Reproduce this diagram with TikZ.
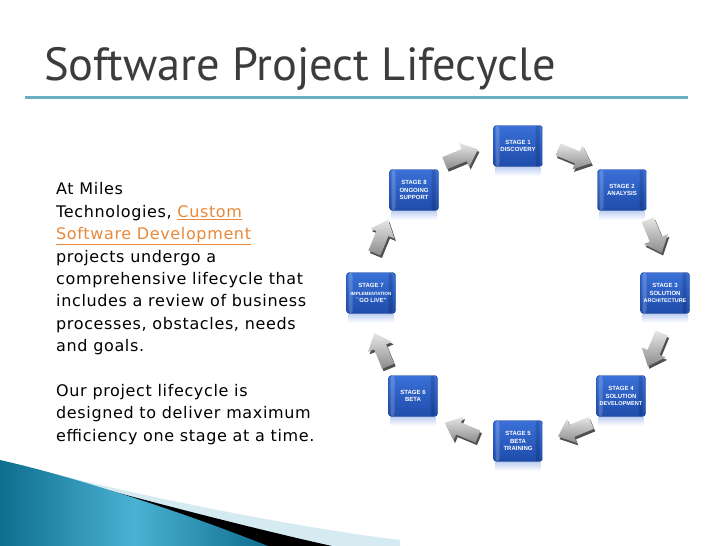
\documentclass[tikz,border=0pt]{standalone}
\usepackage{fontspec}
\setmainfont[LetterSpace=4.0]{DejaVu Sans}
\newfontfamily\titlefont{PT Sans}
\newfontfamily\boxfont{Liberation Sans}
\definecolor{titlegray}{HTML}{3C3C3C}
\definecolor{ruleteal}{HTML}{6AAFC2}
\definecolor{linkorange}{HTML}{E8883A}
\definecolor{boxtop}{HTML}{3A70D8}
\definecolor{boxbot}{HTML}{1E4CAA}
\definecolor{boxedge}{HTML}{1A3F8E}
\definecolor{arrowlight}{HTML}{E6E6E6}
\definecolor{arrowdark}{HTML}{8C8C8C}
\definecolor{arrowside}{HTML}{505050}
\definecolor{swteal}{HTML}{0E6E8E}
\definecolor{swtealmid}{HTML}{4AB2D4}
\definecolor{swlight}{HTML}{D6EAF2}
\tikzset{
 stagebox/.style={rounded corners=3pt, minimum width=49pt, minimum height=41pt, inner sep=1pt,
   top color=boxtop, bottom color=boxbot, draw=boxedge, line width=0.4pt, text=white, align=center,
   font=\boxfont\bfseries\fontsize{6}{7.6}\selectfont,
   path picture={
     \fill[white,opacity=0.18] ([xshift=2pt]path picture bounding box.south west) rectangle ([xshift=6pt]path picture bounding box.north west);
     \fill[black,opacity=0.15] ([xshift=-7pt]path picture bounding box.south east) rectangle ([xshift=-3pt]path picture bounding box.north east);}},
 reflect/.style={top color=boxtop!30, bottom color=white, draw=none},
 arrowshadow/.pic={\fill[arrowside] (-18,-6.5) -- (3,-6.5) -- (3,-13) -- (18,0) -- (3,13) -- (3,6.5) -- (-18,6.5) -- cycle;},
 arrowface/.pic={\shade[top color=arrowlight, bottom color=arrowdark] (-18,-6.5) -- (3,-6.5) -- (3,-13) -- (18,0) -- (3,13) -- (3,6.5) -- (-18,6.5) -- cycle;},
}
\newcommand{\lnk}[1]{\textcolor{linkorange}{\underline{#1}}}
\begin{document}
\begin{tikzpicture}[x=1pt,y=-1pt]
\useasboundingbox (0,0) rectangle (728,546);
% swoosh
\fill[swlight] (55,474) .. controls (150,498) and (300,528) .. (400,540) -- (400,546) -- (0,546) -- cycle;
\fill[black] (38,471) .. controls (120,494) and (250,528) .. (332,546) -- (0,546) -- cycle;
\shade[left color=swteal, right color=swteal, middle color=swtealmid] (0,460) .. controls (80,478) and (190,515) .. (268,546) -- (0,546) -- cycle;
% title
\node[anchor=base west, inner sep=0pt, text=titlegray, font=\titlefont\fontsize{46.5}{46.5}\selectfont] (title) at (44,80) {Software Project Lifecycle};
\draw[line width=3pt, ruleteal] (25,97) -- (688,97);
% body text
\node[anchor=north west, inner sep=0pt, align=left, font=\fontsize{16}{22.4}\selectfont] (body) at (56,182.5)
 {At Miles\\Technologies, \lnk{Custom}\\\lnk{Software Development}\\projects undergo a\\comprehensive lifecycle that\\includes a review of business\\processes, obstacles, needs\\and goals.\\[22.4pt]Our project lifecycle is\\designed to deliver maximum\\efficiency one stage at a time.};
% arrows
\begin{scope}[shift={(518,293)}, y=1pt]
 \begin{scope}[xshift=1.5pt, yshift=-2.5pt]
 \foreach \a in {67.5,22.5,-22.5,-67.5,-112.5,-157.5,157.5,112.5}
   \pic[rotate=\a-90] at (\a:148) {arrowshadow};
 \end{scope}
 \foreach \a in {67.5,22.5,-22.5,-67.5,-112.5,-157.5,157.5,112.5}
   \pic[rotate=\a-90] at (\a:148) {arrowface};
\end{scope}
% boxes
\node[stagebox] (s1) at (518,146) {STAGE 1\\DISCOVERY};
\node[stagebox] (s2) at (622,190) {STAGE 2\\ANALYSIS};
\node[stagebox] (s3) at (665,293) {STAGE 3\\SOLUTION\\{\fontsize{5.4}{7.6}\selectfont ARCHITECTURE}};
\node[stagebox] (s4) at (621,396) {STAGE 4\\SOLUTION\\{\fontsize{5.6}{7.6}\selectfont DEVELOPMENT}};
\node[stagebox] (s5) at (518,441) {STAGE 5\\BETA\\TRAINING};
\node[stagebox] (s6) at (413,396) {STAGE 6\\BETA};
\node[stagebox] (s7) at (371,293) {STAGE 7\\{\fontsize{4.6}{7.6}\selectfont IMPLEMENTATION}\\``GO LIVE''};
\node[stagebox] (s8) at (414,190) {STAGE 8\\ONGOING\\SUPPORT};
\foreach \n in {s1,s2,s3,s4,s5,s6,s7,s8}
  \shade[reflect] ([yshift=-1pt,xshift=2pt]\n.south west) rectangle ([yshift=-9pt,xshift=-2pt]\n.south east);
\end{tikzpicture}
\end{document}
